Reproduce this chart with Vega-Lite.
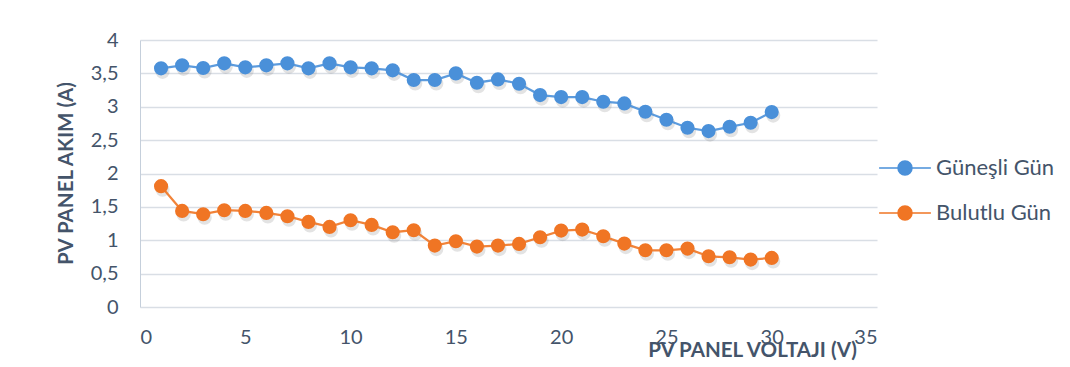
{
  "$schema": "https://vega.github.io/schema/vega-lite/v6.json",
  "autosize": {"type": "none"},
  "width": 737,
  "height": 267,
  "padding": {"left": 140, "top": 40, "right": 193, "bottom": 60},
  "background": "white",
  "config": {
    "font": "Lato",
    "view": {"stroke": null},
    "axis": {"labelColor": "#44546a", "titleColor": "#44546a", "labelFont": "Lato", "titleFont": "Lato"}
  },
  "data": {
    "values": [
      {"V": 1, "I": 3.575, "seri": "Güneşli Gün"},
      {"V": 2, "I": 3.62, "seri": "Güneşli Gün"},
      {"V": 3, "I": 3.58, "seri": "Güneşli Gün"},
      {"V": 4, "I": 3.65, "seri": "Güneşli Gün"},
      {"V": 5, "I": 3.59, "seri": "Güneşli Gün"},
      {"V": 6, "I": 3.62, "seri": "Güneşli Gün"},
      {"V": 7, "I": 3.65, "seri": "Güneşli Gün"},
      {"V": 8, "I": 3.575, "seri": "Güneşli Gün"},
      {"V": 9, "I": 3.65, "seri": "Güneşli Gün"},
      {"V": 10, "I": 3.59, "seri": "Güneşli Gün"},
      {"V": 11, "I": 3.575, "seri": "Güneşli Gün"},
      {"V": 12, "I": 3.545, "seri": "Güneşli Gün"},
      {"V": 13, "I": 3.4, "seri": "Güneşli Gün"},
      {"V": 14, "I": 3.4, "seri": "Güneşli Gün"},
      {"V": 15, "I": 3.5, "seri": "Güneşli Gün"},
      {"V": 16, "I": 3.36, "seri": "Güneşli Gün"},
      {"V": 17, "I": 3.41, "seri": "Güneşli Gün"},
      {"V": 18, "I": 3.345, "seri": "Güneşli Gün"},
      {"V": 19, "I": 3.175, "seri": "Güneşli Gün"},
      {"V": 20, "I": 3.145, "seri": "Güneşli Gün"},
      {"V": 21, "I": 3.145, "seri": "Güneşli Gün"},
      {"V": 22, "I": 3.075, "seri": "Güneşli Gün"},
      {"V": 23, "I": 3.05, "seri": "Güneşli Gün"},
      {"V": 24, "I": 2.925, "seri": "Güneşli Gün"},
      {"V": 25, "I": 2.805, "seri": "Güneşli Gün"},
      {"V": 26, "I": 2.685, "seri": "Güneşli Gün"},
      {"V": 27, "I": 2.635, "seri": "Güneşli Gün"},
      {"V": 28, "I": 2.7, "seri": "Güneşli Gün"},
      {"V": 29, "I": 2.76, "seri": "Güneşli Gün"},
      {"V": 30, "I": 2.92, "seri": "Güneşli Gün"},
      {"V": 1, "I": 1.81, "seri": "Bulutlu Gün"},
      {"V": 2, "I": 1.44, "seri": "Bulutlu Gün"},
      {"V": 3, "I": 1.39, "seri": "Bulutlu Gün"},
      {"V": 4, "I": 1.45, "seri": "Bulutlu Gün"},
      {"V": 5, "I": 1.44, "seri": "Bulutlu Gün"},
      {"V": 6, "I": 1.41, "seri": "Bulutlu Gün"},
      {"V": 7, "I": 1.36, "seri": "Bulutlu Gün"},
      {"V": 8, "I": 1.275, "seri": "Bulutlu Gün"},
      {"V": 9, "I": 1.2, "seri": "Bulutlu Gün"},
      {"V": 10, "I": 1.3, "seri": "Bulutlu Gün"},
      {"V": 11, "I": 1.23, "seri": "Bulutlu Gün"},
      {"V": 12, "I": 1.12, "seri": "Bulutlu Gün"},
      {"V": 13, "I": 1.15, "seri": "Bulutlu Gün"},
      {"V": 14, "I": 0.92, "seri": "Bulutlu Gün"},
      {"V": 15, "I": 0.985, "seri": "Bulutlu Gün"},
      {"V": 16, "I": 0.905, "seri": "Bulutlu Gün"},
      {"V": 17, "I": 0.92, "seri": "Bulutlu Gün"},
      {"V": 18, "I": 0.945, "seri": "Bulutlu Gün"},
      {"V": 19, "I": 1.045, "seri": "Bulutlu Gün"},
      {"V": 20, "I": 1.145, "seri": "Bulutlu Gün"},
      {"V": 21, "I": 1.16, "seri": "Bulutlu Gün"},
      {"V": 22, "I": 1.06, "seri": "Bulutlu Gün"},
      {"V": 23, "I": 0.95, "seri": "Bulutlu Gün"},
      {"V": 24, "I": 0.85, "seri": "Bulutlu Gün"},
      {"V": 25, "I": 0.85, "seri": "Bulutlu Gün"},
      {"V": 26, "I": 0.875, "seri": "Bulutlu Gün"},
      {"V": 27, "I": 0.76, "seri": "Bulutlu Gün"},
      {"V": 28, "I": 0.745, "seri": "Bulutlu Gün"},
      {"V": 29, "I": 0.71, "seri": "Bulutlu Gün"},
      {"V": 30, "I": 0.735, "seri": "Bulutlu Gün"}
    ]
  },
  "encoding": {
    "x": {
      "field": "V", "type": "quantitative",
      "scale": {"domain": [0, 35], "nice": false},
      "axis": {
        "values": [0, 5, 10, 15, 20, 25, 30, 35],
        "grid": false, "domain": false, "ticks": false,
        "labelFontSize": 20, "labelPadding": 20,
        "title": "PV PANEL VOLTAJI (V)", "titleFontSize": 20.5, "titleFontWeight": "bold",
        "titleX": 612, "titleY": 49, "titleAlign": "center", "titleBaseline": "alphabetic"
      }
    },
    "y": {
      "field": "I", "type": "quantitative",
      "scale": {"domain": [0, 4], "nice": false},
      "axis": {
        "values": [0, 0.5, 1, 1.5, 2, 2.5, 3, 3.5, 4],
        "labelExpr": "replace(toString(datum.value), '.', ',')",
        "grid": true, "gridColor": "#d9dee5", "gridWidth": 1.3,
        "domain": true, "domainColor": "#c5cfdb", "ticks": false,
        "labelFontSize": 20, "labelPadding": 22,
        "title": "PV PANEL AKIM (A)", "titleFontSize": 20.5, "titleFontWeight": "bold",
        "titleX": -68, "titleY": 133, "titleAngle": -90, "titleAlign": "center", "titleBaseline": "alphabetic"
      }
    }
  },
  "layer": [
    {
      "mark": {"type": "point", "filled": true, "size": 200, "color": "#7f7f7f", "opacity": 0.22, "xOffset": 1.5, "yOffset": 3.5}
    },
    {
      "mark": {"type": "line", "strokeWidth": 2.25, "opacity": 0.9},
      "encoding": {
        "color": {
          "field": "seri", "type": "nominal",
          "scale": {"domain": ["Güneşli Gün", "Bulutlu Gün"], "range": ["#4a90d9", "#f07524"]},
          "legend": {
            "title": null, "orient": "none", "legendX": 754, "legendY": 117,
            "labelFontSize": 22, "labelColor": "#44546a", "labelFont": "Lato",
            "symbolType": "M-3.7,0L3.7,0M-1,0A1,1,0,1,0,1,0A1,1,0,1,0,-1,0Z",
            "symbolSize": 196, "symbolStrokeWidth": 1.5, "symbolOpacity": 1,
            "labelOffset": 20, "rowPadding": 23
          }
        }
      }
    },
    {
      "mark": {"type": "point", "filled": true, "size": 200, "opacity": 1},
      "encoding": {
        "color": {"field": "seri", "type": "nominal"}
      }
    }
  ]
}
